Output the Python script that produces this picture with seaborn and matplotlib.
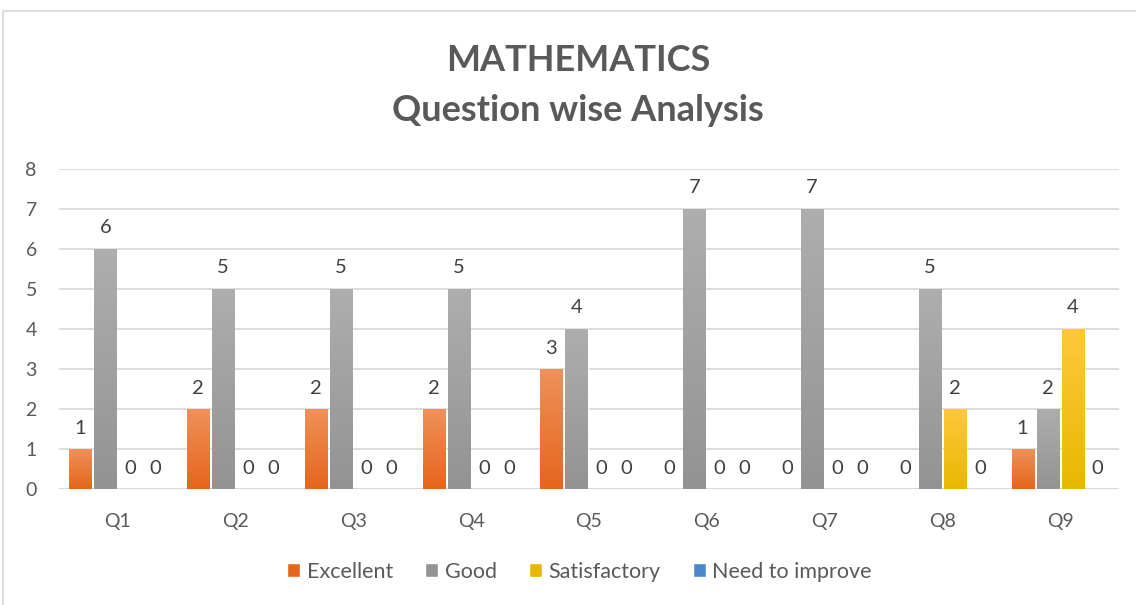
import numpy as np
import pandas as pd
import matplotlib
matplotlib.use("Agg")
import matplotlib.pyplot as plt
import seaborn as sns
from matplotlib.colors import LinearSegmentedColormap
from matplotlib.lines import Line2D

# values
questions = ["Q1", "Q2", "Q3", "Q4", "Q5", "Q6", "Q7", "Q8", "Q9"]
series = ["Excellent", "Good", "Satisfactory", "Need to improve"]
excellent = [1, 2, 2, 2, 3, 0, 0, 0, 1]
good = [6, 5, 5, 5, 4, 7, 7, 5, 2]
satisfactory = [0, 0, 0, 0, 0, 0, 0, 2, 4]
need_to_improve = [0, 0, 0, 0, 0, 0, 0, 0, 0]

# (bottom, top) colours of each series gradient
grads = [("#E5661B", "#F0915C"), ("#939393", "#AEAEAE"),
         ("#E9B700", "#FFC83D"), ("#4A88C9", "#6AA6DD")]

rows = []
for name, vals in zip(series, [excellent, good, satisfactory, need_to_improve]):
    for q, v in zip(questions, vals):
        rows.append({"question": q, "series": name, "count": v})
df = pd.DataFrame(rows)

sns.set_theme(style="white")
plt.rcParams["font.family"] = ["Lato", "DejaVu Sans"]

fig = plt.figure(figsize=(11.36, 6.05), dpi=100)
ax = fig.add_axes([0.052, 0.1917, 0.933, 0.529])

palette = {s: g[0] for s, g in zip(series, grads)}
sns.barplot(data=df, x="question", y="count", hue="series", order=questions,
            hue_order=series, palette=palette, width=0.85, gap=0.12,
            saturation=1, ax=ax, legend=True)

xlim = ax.get_xlim()
# vertical gradient on each bar
for container, (bot, top) in zip(ax.containers, grads):
    cmap = LinearSegmentedColormap.from_list("g", [bot, top])
    for bar in container:
        h = bar.get_height()
        if h <= 0:
            continue
        x0, w = bar.get_x(), bar.get_width()
        im = ax.imshow(np.linspace(0, 1, 256).reshape(-1, 1), cmap=cmap,
                       origin="lower", extent=[x0, x0 + w, 0, h],
                       aspect="auto", zorder=3)
        im.set_clip_path(bar)
    ax.bar_label(container, fmt="%d", padding=9, fontsize=14.5, color="#404040")

ax.set_xlim(xlim)
ax.set_ylim(0, 8)
ax.set_yticks(range(0, 9))
ax.yaxis.grid(True, color="#D9D9D9", linewidth=1.3)
ax.set_axisbelow(True)
sns.despine(ax=ax, left=True, bottom=True, top=True, right=True)
ax.axhline(0, color="#D9D9D9", linewidth=1.3, zorder=1)
ax.set_xlabel("")
ax.set_ylabel("")
ax.tick_params(axis="y", length=0, pad=16, labelsize=14, labelcolor="#595959")
ax.tick_params(axis="x", length=0, pad=17, labelsize=14, labelcolor="#595959")

handles, labels = ax.get_legend_handles_labels()
ax.get_legend().remove()
fig.legend(handles, labels, loc="center", bbox_to_anchor=(0.51, 0.055),
           ncol=4, frameon=False, fontsize=15.5, handlelength=0.6,
           handleheight=0.6, handletextpad=0.3, columnspacing=1.5,
           labelcolor="#595959")

fig.text(0.509, 0.859, "MATHEMATICS\nQuestion wise Analysis", ha="center",
         va="center", fontsize=26, fontweight="bold", color="#595959",
         linespacing=1.65)

# chart border (left and top edges visible)
fig.add_artist(Line2D([0.003, 0.003], [0, 0.982], color="#D9D9D9", lw=1.3))
fig.add_artist(Line2D([0.003, 1.0], [0.982, 0.982], color="#D9D9D9", lw=1.3))

fig.savefig("out.png", dpi=100)
